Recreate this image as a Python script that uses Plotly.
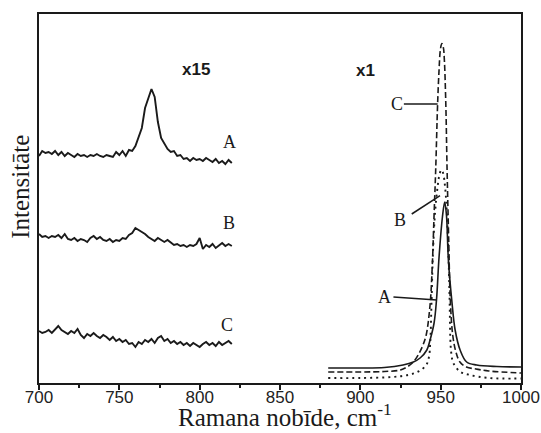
import plotly.graph_objects as go

# ---- data ----
wn_left = list(range(700, 821, 2))  # Raman shift, cm-1, left (x15) traces

left_A = [227, 232, 230, 231, 229, 232, 228, 231, 227, 230, 228, 226, 229, 227, 228, 226,
          228, 227, 229, 227, 226, 228, 227, 226, 231, 228, 232, 227, 233, 232, 237, 246,
          255, 275, 285, 294, 286, 261, 245, 240, 234, 231, 232, 227, 228, 224, 225, 222,
          225, 223, 224, 222, 225, 223, 221, 224, 220, 222, 219, 223, 220]
left_B = [149, 146, 147, 145, 147, 146, 148, 145, 149, 144, 143, 145, 142, 144, 143, 141,
          145, 147, 144, 146, 143, 142, 144, 141, 143, 142, 145, 144, 148, 150, 155, 153,
          151, 149, 146, 144, 142, 145, 143, 141, 143, 140, 138, 139, 137, 138, 136, 138,
          137, 139, 145, 134, 138, 136, 139, 135, 138, 140, 137, 139, 137]
left_C = [52, 50, 51, 53, 50, 54, 57, 53, 51, 49, 52, 50, 54, 48, 45, 49,
          47, 50, 47, 45, 48, 46, 43, 46, 42, 44, 41, 43, 39, 40, 36, 41,
          39, 43, 41, 44, 40, 45, 47, 42, 44, 40, 42, 39, 41, 38, 40, 37,
          40, 38, 36, 39, 41, 38, 40, 37, 41, 38, 40, 42, 39]

solidA_x = [880, 900, 915, 926.6, 933, 937.2, 941.4, 943.4, 945.9, 947.4, 949, 951.1, 952.5,
            953.6, 954.8, 956.9, 959, 962.1, 966.2, 972.4, 985, 1000]
solidA_y = [15, 15, 15.5, 18, 21, 25, 33, 43, 60, 83, 126, 166, 181,
            168, 123, 83, 53, 33, 21, 18, 16.5, 16]

dashC_x = [880, 900, 915, 925, 930, 933, 936, 939, 941, 943.4, 944.8, 946, 946.9, 948.1, 949,
           949.8, 950.7, 951.6, 952.3, 953.2, 954, 955, 956, 957.5, 959.5, 962, 966, 972, 980, 1000]
dashC_y = [11, 11, 11.5, 13, 17, 21, 28, 38, 48, 78, 118, 173, 213, 279, 313,
           333, 339.5, 336, 323, 279, 213, 143, 83, 48, 31, 21, 16, 14, 12, 10]

dotB_x = [880, 900, 920, 929.6, 935.9, 941, 942.7, 943.5, 944.3, 945.2, 946.5, 948, 949.5, 950.5,
          951.5, 952.8, 954, 955, 955.6, 956, 956.6, 957.9, 962.1, 968.3, 980, 1000]
dotB_y = [5, 5, 6, 8, 11.3, 18, 26, 40, 80, 130, 170, 195, 210, 213,
          210, 195, 165, 120, 80, 45, 30, 20, 11.3, 8, 5, 4.5]

tick_vals = [700, 750, 800, 850, 900, 950, 1000]
tick_text = ["700", "750", "800", "850", "900", "950", "1000"]

INK = "#1a1a1a"
fig = go.Figure()
for ys in (left_A, left_B, left_C):
    fig.add_trace(go.Scatter(x=wn_left, y=ys, mode="lines",
                             line=dict(color=INK, width=1.9), showlegend=False))
fig.add_trace(go.Scatter(x=solidA_x, y=solidA_y, mode="lines", line_shape="spline",
                         line=dict(color=INK, width=1.6), showlegend=False))
fig.add_trace(go.Scatter(x=dashC_x, y=dashC_y, mode="lines", line_shape="spline",
                         line=dict(color=INK, width=1.6, dash="6px,3px"), showlegend=False))
fig.add_trace(go.Scatter(x=dotB_x, y=dotB_y, mode="lines", line_shape="spline",
                         line=dict(color=INK, width=1.9, dash="2px,4px"), showlegend=False))

serif = "Liberation Serif"
lab = dict(family=serif, size=18, color=INK)
annots = [
    dict(x=818.3, y=241, text="A"), dict(x=818.3, y=160, text="B"), dict(x=817.2, y=58, text="C"),
    dict(x=922.7, y=279, text="C"), dict(x=924.8, y=163, text="B"), dict(x=915.2, y=86, text="A"),
]
for a in annots:
    fig.add_annotation(x=a["x"], y=a["y"], text=a["text"], showarrow=False,
                       xref="x", yref="y", font=lab)
sans = dict(family="Liberation Sans", size=17, color=INK, weight="bold")
fig.add_annotation(x=797.5, y=314, text="x15", showarrow=False, font=sans)
fig.add_annotation(x=903, y=313, text="x1", showarrow=False, font=sans)

# leader lines
for x0, y0, x1, y1 in [(927.1, 279, 948.1, 279), (932, 169, 949.6, 187.3), (920.6, 86, 947.6, 83)]:
    fig.add_shape(type="line", x0=x0, y0=y0, x1=x1, y1=y1, xref="x", yref="y",
                  line=dict(color=INK, width=1.5))

# axis titles
fig.add_annotation(x=0.51, y=-0.088, xref="paper", yref="paper",
                   xanchor="center", yanchor="middle",
                   text="Ramana nobīde, cm<sup>-1</sup>", showarrow=False,
                   font=dict(family=serif, size=25, color=INK))
fig.add_annotation(x=-0.04, y=0.531, xref="paper", yref="paper", textangle=-90,
                   xanchor="center", yanchor="middle",
                   text="Intensitāte", showarrow=False,
                   font=dict(family=serif, size=25, color=INK))

fig.update_layout(
    width=541, height=433, margin=dict(l=39, r=20, t=14, b=50),
    paper_bgcolor="white", plot_bgcolor="white",
    xaxis=dict(range=[700, 1000], tickvals=tick_vals, ticktext=tick_text, automargin=False,
               ticks="outside", ticklen=5, tickwidth=1.5, tickcolor=INK, ticklabelstandoff=-7,
               minor=dict(dtick=25, tick0=700, ticks="outside", ticklen=3, tickwidth=1.5, tickcolor=INK),
               showline=True, linewidth=2, linecolor=INK, mirror=True,
               showgrid=False, zeroline=False,
               tickfont=dict(family="Liberation Sans", size=17, color="#222")),
    yaxis=dict(range=[0, 369], showticklabels=False, ticks="", automargin=False,
               showline=True, linewidth=2, linecolor=INK, mirror=True,
               showgrid=False, zeroline=False),
)
fig.write_html("out.html")
